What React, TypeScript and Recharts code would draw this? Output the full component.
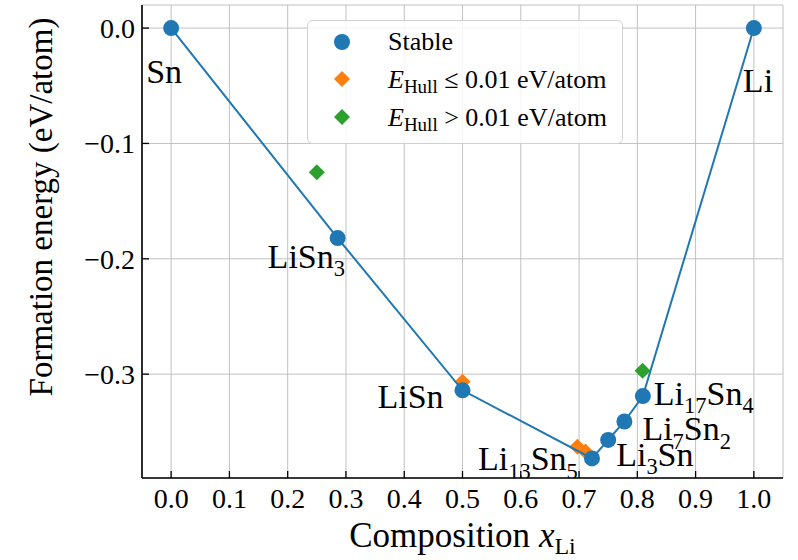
import { ScatterChart, Scatter, XAxis, YAxis, CartesianGrid, Legend } from "recharts";

// stable phases on the convex hull
const stableX = [0, 0.2857, 0.5, 0.7222, 0.75, 0.7778, 0.8095, 1];
const stableY = [0, -0.182, -0.314, -0.373, -0.357, -0.341, -0.319, 0];
const stableNames = ["Sn", "LiSn3", "LiSn", "Li13Sn5", "Li3Sn", "Li7Sn2", "Li17Sn4", "Li"];

// E_hull <= 0.01 eV/atom
const nearX = [0.5, 0.697, 0.711];
const nearY = [-0.3065, -0.363, -0.367];

// E_hull > 0.01 eV/atom
const aboveX = [0.25, 0.809];
const aboveY = [-0.125, -0.297];

const xTicks = [0, 0.1, 0.2, 0.3, 0.4, 0.5, 0.6, 0.7, 0.8, 0.9, 1.0];
const yTicks = [-0.3, -0.2, -0.1, 0];

const stable = stableX.map((x, i) => ({ x, y: stableY[i], name: stableNames[i] }));
const near = nearX.map((x, i) => ({ x, y: nearY[i] }));
const above = aboveX.map((x, i) => ({ x, y: aboveY[i] }));

const BLUE = "#1f77b4";
const ORANGE = "#ff7f0e";
const GREEN = "#2ca02c";
const FONT = "Liberation Serif";
const TICK_MARGIN = 8;

// where each phase label sits relative to its point (text start, baseline)
const labelOffsets: Record<string, [number, number]> = {
  Sn: [-25, 55],
  LiSn3: [-70, 30],
  LiSn: [-85, 18],
  Li13Sn5: [-114, 12],
  Li3Sn: [8, 26],
  Li7Sn2: [18, 19],
  Li17Sn4: [11, 9],
  Li: [-11, 64],
};

function Formula({ x, y, text, size }: { x: number; y: number; text: string; size: number }) {
  const parts = text.match(/[A-Za-z]+|\d+/g) || [];
  const shift = size * 0.24;
  let down = false;
  return (
    <text x={x} y={y} fontFamily={FONT} fontSize={size} fill="#000">
      {parts.map((p, i) => {
        const isSub = /\d/.test(p);
        let dy = 0;
        if (isSub && !down) { dy = shift; down = true; }
        else if (!isSub && down) { dy = -shift; down = false; }
        return (
          <tspan key={i} dy={dy} fontSize={isSub ? size * 0.66 : size}>{p}</tspan>
        );
      })}
    </text>
  );
}

const fmt = (v: number) => (v === 0 ? "0.0" : v.toFixed(1).replace("-", "\u2212"));

const XTick = (props: any) => {
  const { x, y, payload } = props;
  const top = y - TICK_MARGIN;
  return (
    <g>
      <line x1={x} x2={x} y1={top} y2={top - 7} stroke="#000" strokeWidth={1.3} />
      <text x={x} y={top + 30} textAnchor="middle" fontFamily={FONT} fontSize={28} fill="#000">
        {fmt(payload.value)}
      </text>
    </g>
  );
};

const YTick = (props: any) => {
  const { x, y, payload } = props;
  const right = x + TICK_MARGIN;
  return (
    <g>
      <line x1={right} x2={right + 7} y1={y} y2={y} stroke="#000" strokeWidth={1.3} />
      <text x={right - 7} y={y + 10} textAnchor="end" fontFamily={FONT} fontSize={28} fill="#000">
        {fmt(payload.value)}
      </text>
    </g>
  );
};

const Circle = (props: any) => {
  const { cx, cy, payload } = props;
  const off = labelOffsets[payload.name] || [0, 0];
  return (
    <g>
      <circle cx={cx} cy={cy} r={8} fill={BLUE} />
      <Formula x={cx + off[0]} y={cy + off[1]} text={payload.name} size={34} />
    </g>
  );
};

const diamond = (color: string, r: number) => (props: any) => {
  const { cx, cy } = props;
  return (
    <polygon
      points={`${cx},${cy - r} ${cx + r},${cy} ${cx},${cy + r} ${cx - r},${cy}`}
      fill={color}
    />
  );
};

const LegendBox = () => (
  <svg width={316} height={124} style={{ display: "block" }}>
    <rect x={0.5} y={0.5} width={315} height={123} rx={5} fill="#fff" fillOpacity={0.85} stroke="#d0d0d0" />
    <circle cx={35} cy={22} r={8} fill={BLUE} />
    <text x={81} y={30} fontFamily={FONT} fontSize={26} fill="#000">Stable</text>
    <polygon points="35,51 43,59 35,67 27,59" fill={ORANGE} />
    <text x={81} y={68} fontFamily={FONT} fontSize={26} fill="#000">
      <tspan fontStyle="italic">E</tspan>
      <tspan fontSize={19} dy={5}>Hull</tspan>
      <tspan dy={-5}> {"\u2264"} 0.01 eV/atom</tspan>
    </text>
    <polygon points="35,89 43,97 35,105 27,97" fill={GREEN} />
    <text x={81} y={106} fontFamily={FONT} fontSize={26} fill="#000">
      <tspan fontStyle="italic">E</tspan>
      <tspan fontSize={19} dy={5}>Hull</tspan>
      <tspan dy={-5}> {">"} 0.01 eV/atom</tspan>
    </text>
  </svg>
);

const XLabel = (props: any) => {
  const { viewBox } = props;
  const cx = viewBox.x + viewBox.width / 2;
  return (
    <text x={cx} y={viewBox.y + 69} textAnchor="middle" fontFamily={FONT} fontSize={35} fill="#000">
      Composition <tspan fontStyle="italic">x</tspan>
      <tspan fontSize={24} dy={7}>Li</tspan>
    </text>
  );
};

export default function App() {
  return (
    <div style={{ position: "absolute", left: 0, top: 0, background: "#fff", fontFamily: FONT }}>
      <ScatterChart width={798} height={560} margin={{ top: 5, right: 15, bottom: 0, left: 0 }}>
        <CartesianGrid stroke="#c0c0c0" strokeWidth={1} />
        <XAxis
          type="number"
          dataKey="x"
          domain={[-0.05, 1.05]}
          ticks={xTicks}
          allowDataOverflow
          height={82}
          tickLine={false}
          tickSize={0}
          tickMargin={TICK_MARGIN}
          tick={<XTick />}
          axisLine={{ stroke: "#000", strokeWidth: 1.6 }}
          label={<XLabel />}
        />
        <XAxis
          xAxisId="top"
          orientation="top"
          type="number"
          dataKey="x"
          domain={[-0.05, 1.05]}
          allowDataOverflow
          height={0}
          tick={false}
          tickLine={false}
          axisLine={{ stroke: "#000", strokeWidth: 1.6 }}
        />
        <YAxis
          type="number"
          dataKey="y"
          domain={[-0.39, 0.02]}
          ticks={yTicks}
          allowDataOverflow
          width={142}
          tickLine={false}
          tickSize={0}
          tickMargin={TICK_MARGIN}
          tick={<YTick />}
          axisLine={{ stroke: "#000", strokeWidth: 1.6 }}
        />
        <YAxis
          yAxisId="right"
          orientation="right"
          type="number"
          dataKey="y"
          domain={[-0.39, 0.02]}
          allowDataOverflow
          width={0}
          tick={false}
          tickLine={false}
          axisLine={{ stroke: "#000", strokeWidth: 1.6 }}
        />
        <Legend
          layout="vertical"
          align="center"
          verticalAlign="middle"
          content={() => <LegendBox />}
          wrapperStyle={{ left: 307, top: 20, width: 316, height: 124 }}
        />
        <Scatter name="E_Hull <= 0.01" data={near} shape={diamond(ORANGE, 8)} isAnimationActive={false} />
        <Scatter name="E_Hull > 0.01" data={above} shape={diamond(GREEN, 8)} isAnimationActive={false} />
        <Scatter
          name="hull"
          data={stable}
          line={{ stroke: BLUE, strokeWidth: 2 }}
          shape={() => <g />}
          isAnimationActive={false}
          legendType="none"
        />
        <Scatter name="Stable" data={stable} shape={<Circle />} isAnimationActive={false} />
        <text
          x={52}
          y={207}
          transform="rotate(-90, 52, 207)"
          textAnchor="middle"
          fontFamily={FONT}
          fontSize={33}
          fill="#000"
        >
          Formation energy (eV/atom)
        </text>
      </ScatterChart>
    </div>
  );
}
